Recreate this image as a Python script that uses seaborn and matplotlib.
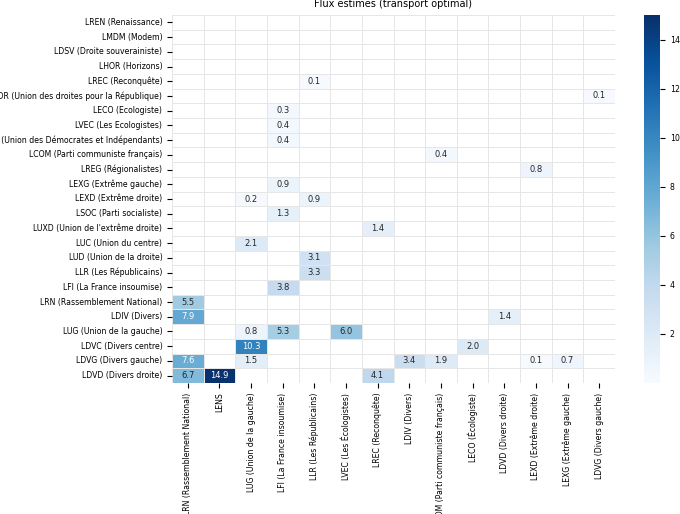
import numpy as np
import pandas as pd
import matplotlib
matplotlib.use("Agg")
import matplotlib.pyplot as plt
import seaborn as sns

rows = ["LREN (Renaissance)", "LMDM (Modem)", "LDSV (Droite souverainiste)", "LHOR (Horizons)",
        "LREC (Reconquête)", "LUDR (Union des droites pour la République)", "LECO (Ecologiste)",
        "LVEC (Les Ecologistes)", "LUDI (Union des Démocrates et Indépendants)",
        "LCOM (Parti communiste français)", "LREG (Régionalistes)", "LEXG (Extrême gauche)",
        "LEXD (Extrême droite)", "LSOC (Parti socialiste)", "LUXD (Union de l'extrême droite)",
        "LUC (Union du centre)", "LUD (Union de la droite)", "LLR (Les Républicains)",
        "LFI (La France insoumise)", "LRN (Rassemblement National)", "LDIV (Divers)",
        "LUG (Union de la gauche)", "LDVC (Divers centre)", "LDVG (Divers gauche)", "LDVD (Divers droite)"]
cols = ["LRN (Rassemblement National)", "LENS", "LUG (Union de la gauche)", "LFI (La France insoumise)",
        "LLR (Les Républicains)", "LVEC (Les Écologistes)", "LREC (Reconquête)", "LDIV (Divers)",
        "LCOM (Parti communiste français)", "LECO (Écologiste)", "LDVD (Divers droite)",
        "LEXD (Extrême droite)", "LEXG (Extrême gauche)", "LDVG (Divers gauche)"]

# (row index, col index, value)
flows = [
    (4, 4, 0.1), (5, 13, 0.1), (6, 3, 0.3), (7, 3, 0.4), (8, 3, 0.4), (9, 8, 0.4),
    (10, 11, 0.8), (11, 3, 0.9), (12, 2, 0.2), (12, 4, 0.9), (13, 3, 1.3), (14, 6, 1.4),
    (15, 2, 2.1), (16, 4, 3.1), (17, 4, 3.3), (18, 3, 3.8), (19, 0, 5.5),
    (20, 0, 7.9), (20, 10, 1.4), (21, 2, 0.8), (21, 3, 5.3), (21, 5, 6.0),
    (22, 2, 10.3), (22, 9, 2.0),
    (23, 0, 7.6), (23, 2, 1.5), (23, 7, 3.4), (23, 8, 1.9), (23, 11, 0.1), (23, 12, 0.7),
    (24, 0, 6.7), (24, 1, 14.9), (24, 6, 4.1),
]

M = np.full((len(rows), len(cols)), np.nan)
for r, c, v in flows:
    M[r, c] = v
df = pd.DataFrame(M, index=rows, columns=cols)
df.index.name = "2026_muni_t1"
df.columns.name = "2024_euro_t1"

W, H = 680, 514
fig = plt.figure(figsize=(6.8, 5.14), dpi=100)
ax = fig.add_axes([172 / W, 1 - 383 / H, (615 - 172) / W, (383 - 15) / H])
cax = fig.add_axes([644 / W, 1 - 383 / H, 16 / W, (383 - 15) / H])
bg = np.zeros_like(M)
sns.heatmap(pd.DataFrame(bg, index=rows, columns=cols), cmap=["white"], cbar=False,
            linewidths=0.5, linecolor="#e6e6e6", ax=ax)
sns.heatmap(df, cmap="Blues", vmin=0, vmax=15, annot=True, fmt=".1f",
            annot_kws={"size": 6}, linewidths=0.5, linecolor="#e6e6e6", ax=ax,
            cbar_ax=cax, cbar_kws={"ticks": [2, 4, 6, 8, 10, 12, 14]})
ax.set_title("Flux estimés (transport optimal)", fontsize=7)
ax.set_xlabel("2024_euro_t1", fontsize=6)
ax.set_ylabel("2026_muni_t1", fontsize=6)
ax.tick_params(labelsize=5.6)
ax.set_xticks(np.arange(len(cols)) + 0.5)
ax.set_xticklabels(cols, rotation=90)
ax.set_yticks(np.arange(len(rows)) + 0.5)
ax.set_yticklabels(rows, rotation=0)
cax.tick_params(labelsize=5.6)
fig.savefig("out.png", dpi=100)
